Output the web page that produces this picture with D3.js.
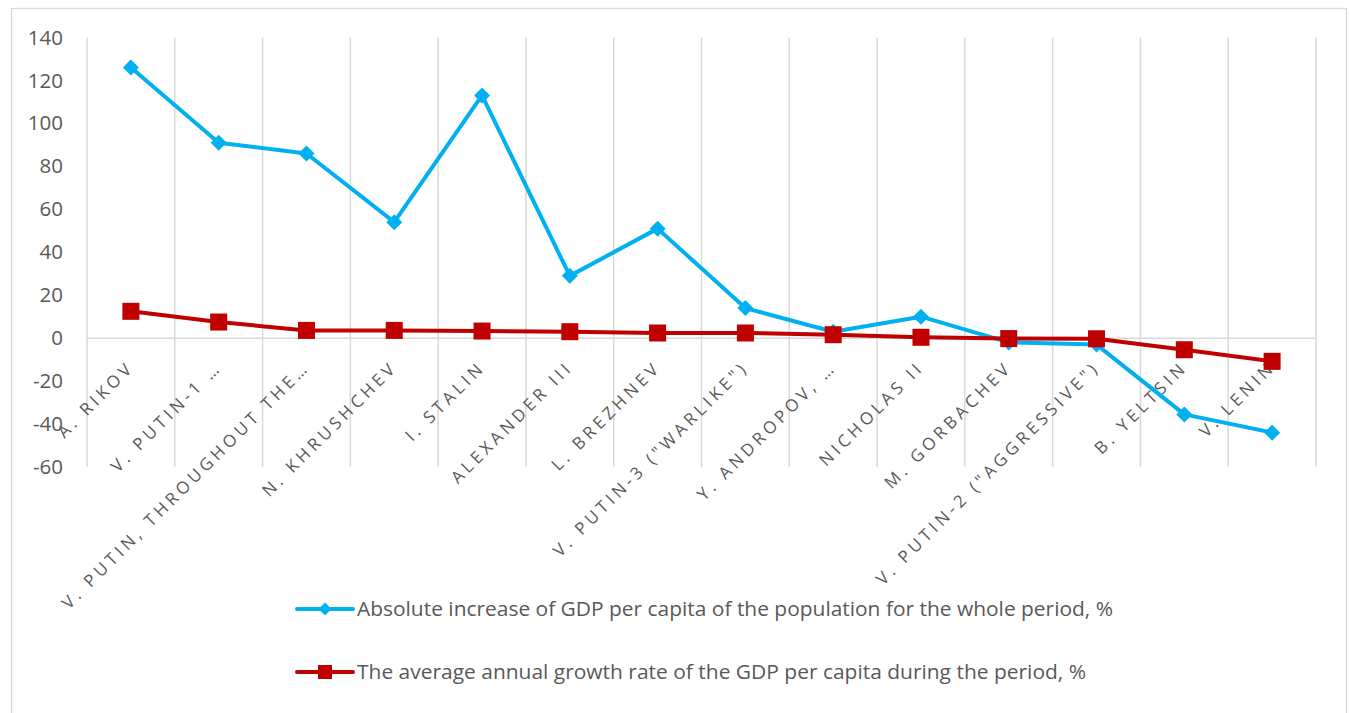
<!DOCTYPE html>
<html>
<head>
<meta charset="utf-8">
<script src="https://cdn.jsdelivr.net/npm/d3@7"></script>
<style>
  body { margin: 0; background: #fff; }
  text { font-family: "Open Sans", "Liberation Sans", sans-serif; fill: #595959; }
  .cat-label { font-size: 17px; letter-spacing: 3.9px; }
  .legend-label { font-size: 20px; }
</style>
</head>
<body>
<div id="wrapper"></div>
<script>
// data
const categories = [
  "A. RIKOV",
  "V. PUTIN-1 …",
  "V. PUTIN, THROUGHOUT THE…",
  "N. KHRUSHCHEV",
  "I. STALIN",
  "ALEXANDER III",
  "L. BREZHNEV",
  "V. PUTIN-3 (\"WARLIKE\")",
  "Y. ANDROPOV, …",
  "NICHOLAS II",
  "M. GORBACHEV",
  "V. PUTIN-2 (\"AGGRESSIVE\")",
  "B. YELTSIN",
  "V. LENIN",
]
const absoluteIncrease = [126, 91, 86, 54, 113, 29, 51, 14, 3, 10, -2, -3, -35.5, -44]
const annualGrowth = [12.5, 7.5, 3.6, 3.6, 3.3, 3.0, 2.4, 2.4, 1.6, 0.4, -0.2, -0.3, -5.4, -10.8]
const yTicks = [-60, -40, -20, 0, 20, 40, 60, 80, 100, 120, 140]
const seriesNames = [
  "Absolute increase of GDP per capita of the population for the whole period, %",
  "The average annual growth rate of the GDP per capita during the period, %",
]

function drawChart() {

  const dimensions = {
    width: 1350,
    height: 713,
    margin: { top: 37.5, right: 34, bottom: 246, left: 87 },
  }
  dimensions.boundedWidth = dimensions.width - dimensions.margin.left - dimensions.margin.right
  dimensions.boundedHeight = dimensions.height - dimensions.margin.top - dimensions.margin.bottom

  const wrapper = d3.select("#wrapper")
    .append("svg")
      .attr("width", dimensions.width)
      .attr("height", dimensions.height)

  // chart area border
  wrapper.append("rect")
      .attr("x", 11.5)
      .attr("y", 8.5)
      .attr("width", 1335)
      .attr("height", 720)
      .attr("fill", "none")
      .attr("stroke", "#d9d9d9")
      .attr("stroke-width", 1.3)

  const bounds = wrapper.append("g")
      .attr("transform", `translate(${dimensions.margin.left}, ${dimensions.margin.top})`)

  // scales
  const xScale = d3.scaleBand()
    .domain(categories)
    .range([0, dimensions.boundedWidth])

  const yScale = d3.scaleLinear()
    .domain([-60, 140])
    .range([dimensions.boundedHeight, 0])

  const xCenter = d => xScale(d) + xScale.bandwidth() / 2

  // vertical category gridlines
  const gridX = categories.map(c => xScale(c)).concat([dimensions.boundedWidth])
  bounds.selectAll(".grid-x")
      .data(gridX)
    .enter().append("line")
      .attr("class", "grid-x")
      .attr("x1", d => d)
      .attr("x2", d => d)
      .attr("y1", 0)
      .attr("y2", dimensions.boundedHeight)
      .attr("stroke", "#d9d9d9")
      .attr("stroke-width", 1.5)

  // zero line (category axis)
  bounds.append("line")
      .attr("x1", 0)
      .attr("x2", dimensions.boundedWidth)
      .attr("y1", yScale(0))
      .attr("y2", yScale(0))
      .attr("stroke", "#d9d9d9")
      .attr("stroke-width", 1.5)

  // y axis
  const yAxisGenerator = d3.axisLeft(yScale)
    .tickValues(yTicks)
    .tickSize(0)
    .tickPadding(24)
    .tickFormat(d => String(d))

  const yAxis = bounds.append("g")
      .attr("class", "y-axis")
    .call(yAxisGenerator)
  yAxis.select(".domain").remove()
  yAxis.selectAll("text")
      .attr("fill", "#595959")
      .style("font-family", "\"Open Sans\", sans-serif")
      .style("font-size", "20.5px")

  // category labels
  bounds.selectAll(".cat-label")
      .data(categories)
    .enter().append("text")
      .attr("class", "cat-label")
      .attr("text-anchor", "end")
      .attr("dominant-baseline", "middle")
      .attr("transform", d => `translate(${xCenter(d) + 1}, ${yScale(0) + 27}) rotate(-45)`)
      .text(d => d)

  // lines
  const series = [
    { values: absoluteIncrease, color: "#00b0f0", marker: "diamond" },
    { values: annualGrowth, color: "#c00000", marker: "square" },
  ]

  const lineGenerator = d3.line()
    .x((d, i) => xCenter(categories[i]))
    .y(d => yScale(d))

  const addMarker = (sel, marker, size) => {
    // diamond = square turned 45 degrees
    const side = marker == "diamond" ? size / Math.SQRT2 : size
    sel.attr("x", -side / 2)
      .attr("y", -side / 2)
      .attr("width", side)
      .attr("height", side)
  }

  series.forEach(s => {
    bounds.append("path")
        .attr("d", lineGenerator(s.values))
        .attr("fill", "none")
        .attr("stroke", s.color)
        .attr("stroke-width", 4)
        .attr("stroke-linejoin", "round")

    bounds.selectAll(null)
        .data(s.values)
      .enter().append("rect")
        .call(addMarker, s.marker, s.marker == "diamond" ? 16 : 17)
        .attr("transform", (d, i) => `translate(${xCenter(categories[i])}, ${yScale(d)})` +
          (s.marker == "diamond" ? " rotate(45)" : ""))
        .attr("fill", s.color)
  })

  // legend
  const legendY = [609, 672]
  const legendTextWidth = [756, 729]
  series.forEach((s, i) => {
    const g = wrapper.append("g")
        .attr("transform", `translate(297, ${legendY[i]})`)
    g.append("line")
        .attr("x1", 0)
        .attr("x2", 56)
        .attr("stroke", s.color)
        .attr("stroke-width", 4)
        .attr("stroke-linecap", "round")
    g.append("rect")
        .call(addMarker, s.marker, s.marker == "diamond" ? 13 : 14)
        .attr("transform", "translate(28,0)" + (s.marker == "diamond" ? " rotate(45)" : ""))
        .attr("fill", s.color)
    g.append("text")
        .attr("class", "legend-label")
        .attr("x", 60)
        .attr("dy", "0.35em")
        .attr("textLength", legendTextWidth[i])
        .attr("lengthAdjust", "spacingAndGlyphs")
        .text(seriesNames[i])
  })
}
drawChart()
</script>
</body>
</html>
